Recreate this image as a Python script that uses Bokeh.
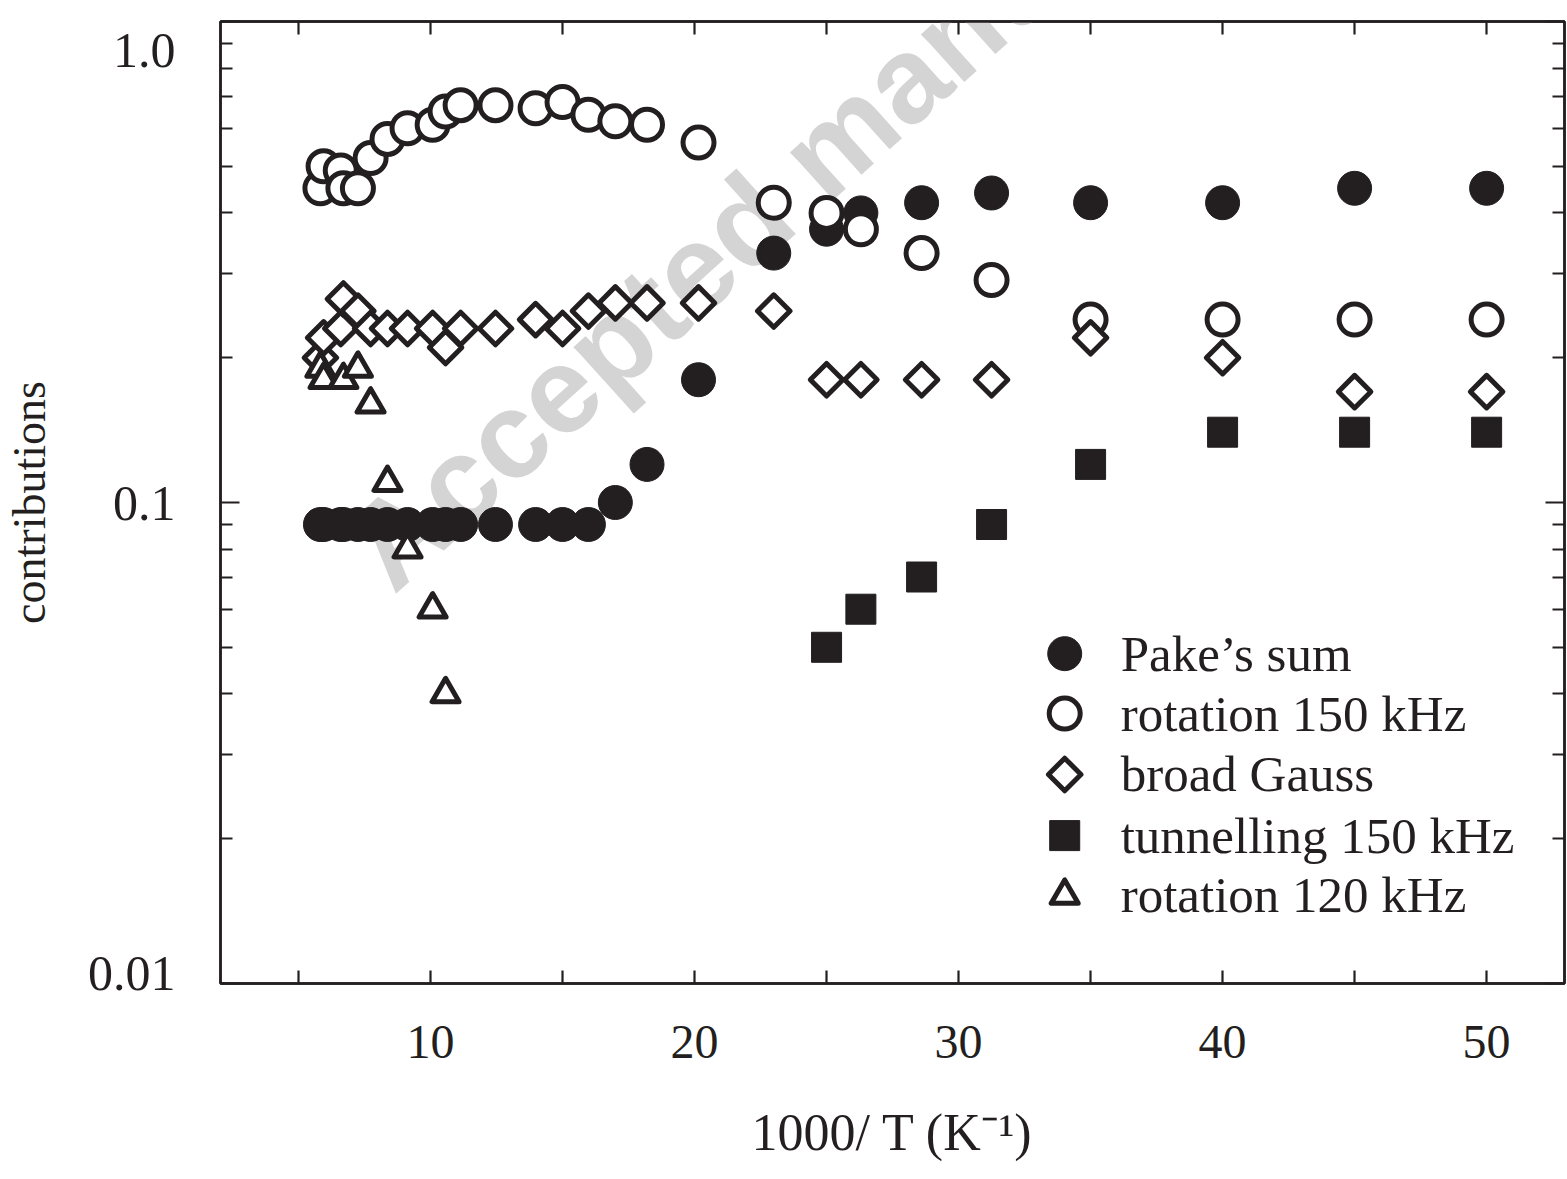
from bokeh.plotting import figure
from bokeh.models import FixedTicker, LinearAxis, LogAxis, Label, Range1d, CustomJSTickFormatter
from bokeh.embed import file_html
from bokeh.resources import INLINE

# ---------------- data ----------------
pake_x = [5.83, 5.95, 6.6, 6.7, 7.25, 7.73, 8.37, 9.13, 10.08, 10.57, 11.14, 12.46, 13.98,
          15.0, 15.98, 17.0, 18.2, 20.15, 23.0, 25.0, 26.3, 28.6, 31.25, 35.0, 40.0, 45.0, 50.0]
pake_y = [0.09, 0.09, 0.09, 0.09, 0.09, 0.09, 0.09, 0.09, 0.09, 0.09, 0.09, 0.09, 0.09,
          0.09, 0.09, 0.10, 0.12, 0.18, 0.33, 0.37, 0.40, 0.42, 0.44, 0.42, 0.42, 0.45, 0.45]

rot150_x = [5.83, 5.95, 6.6, 6.7, 7.25, 7.73, 8.37, 9.13, 10.08, 10.57, 11.14, 12.46, 13.98,
            15.0, 15.98, 17.0, 18.2, 20.15, 23.0, 25.0, 26.3, 28.6, 31.25, 35.0, 40.0, 45.0, 50.0]
rot150_y = [0.45, 0.50, 0.49, 0.45, 0.45, 0.52, 0.57, 0.60, 0.61, 0.65, 0.67, 0.67, 0.66,
            0.68, 0.64, 0.62, 0.61, 0.56, 0.42, 0.40, 0.37, 0.33, 0.29, 0.24, 0.24, 0.24, 0.24]

gauss_x = [5.83, 5.95, 6.6, 6.7, 7.25, 7.73, 8.37, 9.13, 10.08, 10.57, 11.14, 12.46, 13.98,
           15.0, 15.98, 17.0, 18.2, 20.15, 23.0, 25.0, 26.3, 28.6, 31.25, 35.0, 40.0, 45.0, 50.0]
gauss_y = [0.20, 0.22, 0.23, 0.265, 0.25, 0.23, 0.23, 0.23, 0.23, 0.21, 0.23, 0.23, 0.24,
           0.23, 0.25, 0.26, 0.26, 0.26, 0.25, 0.18, 0.18, 0.18, 0.18, 0.22, 0.20, 0.17, 0.17]

tunnel_x = [25.0, 26.3, 28.6, 31.25, 35.0, 40.0, 45.0, 50.0]
tunnel_y = [0.05, 0.06, 0.07, 0.09, 0.12, 0.14, 0.14, 0.14]

rot120_x = [5.83, 5.95, 6.7, 7.25, 7.73, 8.37, 9.13, 10.08, 10.57]
rot120_y = [0.19, 0.18, 0.18, 0.19, 0.16, 0.11, 0.08, 0.06, 0.04]

x_major = [10, 20, 30, 40, 50]
x_minor = [5, 15, 25, 35, 45]
y_major = [0.01, 0.1, 1.0]
y_minor = [0.02, 0.03, 0.04, 0.05, 0.06, 0.07, 0.08, 0.09,
           0.2, 0.3, 0.4, 0.5, 0.6, 0.7, 0.8, 0.9]
# the end labels sit slightly inside the frame in the reference: empty
# extra lines push them inward
y_axis_labels = {0.01: "0.01\n", 0.1: "0.1", 1.0: "\n1.0\n\n\n\n\n\n\n"}

x_title = "1000/ T (K\u207b\u00b9)"
y_title = "contributions"

legend_labels = ["Pake\u2019s sum", "rotation 150 kHz", "broad Gauss",
                 "tunnelling 150 kHz", "rotation 120 kHz"]

# ---------------- styling ----------------
INK = "#231f20"
SERIF = "Liberation Serif"

p = figure(width=1567, height=1179, output_backend="svg", toolbar_location=None,
           x_range=Range1d(2.045, 52.95), y_range=Range1d(0.01, 1.0), y_axis_type="log",
           min_border_left=220, min_border_right=3, min_border_top=21, min_border_bottom=196,
           background_fill_color="white", border_fill_color="white")
p.grid.visible = False
p.outline_line_color = INK
p.outline_line_width = 2.5

xt = FixedTicker(ticks=x_major, minor_ticks=x_minor)
yt = FixedTicker(ticks=y_major, minor_ticks=y_minor)
blank = CustomJSTickFormatter(code="return ''")


def style_common(ax):
    ax.axis_line_color = INK
    ax.axis_line_width = 2.5
    ax.major_tick_line_color = INK
    ax.major_tick_line_width = 2.2
    ax.minor_tick_line_color = INK
    ax.minor_tick_line_width = 2.2
    ax.major_tick_out = 0
    ax.minor_tick_out = 0


def style_x(ax, show):
    style_common(ax)
    ax.ticker = xt
    ax.major_tick_in = 13
    ax.minor_tick_in = 13
    if show:
        ax.major_label_text_font = SERIF
        ax.major_label_text_font_size = "48px"
        ax.major_label_text_color = INK
        ax.major_label_standoff = 42
    else:
        ax.formatter = blank
        ax.major_label_text_font_size = "4px"
        ax.major_label_standoff = 0


def style_y(ax, show):
    style_common(ax)
    ax.ticker = yt
    ax.major_tick_in = 19
    ax.minor_tick_in = 12
    if show:
        ax.major_label_overrides = y_axis_labels
        ax.major_label_text_font = SERIF
        ax.major_label_text_font_size = "50px"
        ax.major_label_text_line_height = 0.3765
        ax.major_label_text_color = INK
        ax.major_label_standoff = 45
    else:
        ax.formatter = blank
        ax.major_label_text_font_size = "4px"
        ax.major_label_standoff = 0


style_x(p.xaxis[0], True)
style_y(p.yaxis[0], True)

yax = p.yaxis[0]
yax.axis_label = y_title
yax.axis_label_text_font = SERIF
yax.axis_label_text_font_size = "46px"
yax.axis_label_text_font_style = "normal"
yax.axis_label_text_color = INK
yax.axis_label_standoff = 30

xax = p.xaxis[0]
xax.axis_label = x_title
xax.axis_label_text_font = SERIF
xax.axis_label_text_font_size = "52px"
xax.axis_label_text_font_style = "normal"
xax.axis_label_text_color = INK
xax.axis_label_standoff = 43

top_ax = LinearAxis()
style_x(top_ax, False)
p.add_layout(top_ax, "above")
right_ax = LogAxis()
style_y(right_ax, False)
p.add_layout(right_ax, "right")

# ---------------- watermark ----------------
p.add_layout(Label(x=7.54, y=0.0743, text="Accepted manuscript", angle=0.733, angle_units="rad",
                   text_font="Liberation Sans", text_font_style="bold", text_font_size="122px",
                   text_color="#d4d4d4", text_baseline="alphabetic", text_align="left",
                   level="underlay"))

# ---------------- data marks ----------------
p.scatter(pake_x, pake_y, marker="circle", size=34, fill_color=INK, line_color=INK, line_width=1)
p.scatter(rot150_x, rot150_y, marker="circle", size=31, fill_color="white", line_color=INK,
          line_width=5)
p.scatter(gauss_x, gauss_y, marker="square", angle=0.785398, size=23, fill_color="white",
          line_color=INK, line_width=5, line_join="round")
p.scatter(tunnel_x, tunnel_y, marker="square", size=30, fill_color=INK, line_color=INK, line_width=1)
p.scatter(rot120_x, rot120_y, marker="triangle", size=27, fill_color="white", line_color=INK,
          line_width=5, line_join="round")

# ---------------- legend (drawn by hand to keep marker sizes/shapes) ----------------
LEG_MX = 34.02
LEG_TX = 36.14
LEG_ROWS = [0.0485, 0.0364, 0.0272, 0.0203, 0.01524]
leg_styles = [
    dict(marker="circle", size=34, fill_color=INK, line_color=INK, line_width=1),
    dict(marker="circle", size=31, fill_color="white", line_color=INK, line_width=5),
    dict(marker="square", angle=0.785398, size=23, fill_color="white", line_color=INK,
         line_width=5, line_join="round"),
    dict(marker="square", size=30, fill_color=INK, line_color=INK, line_width=1),
    dict(marker="triangle", size=27, fill_color="white", line_color=INK, line_width=5,
         line_join="round"),
]
for row, sty, lab in zip(LEG_ROWS, leg_styles, legend_labels):
    p.scatter([LEG_MX], [row], **sty)
    p.add_layout(Label(x=LEG_TX, y=row, text=lab, text_font=SERIF, text_font_size="51px",
                       text_color=INK, text_baseline="middle", text_align="left"))

open("out.html", "w").write(file_html(p, INLINE))
